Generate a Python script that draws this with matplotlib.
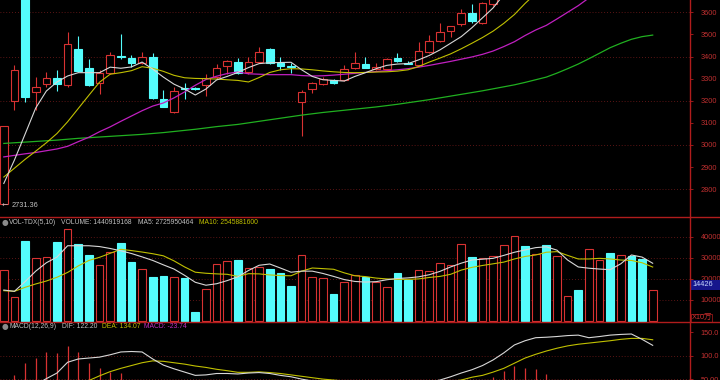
import numpy as np
import matplotlib
matplotlib.use("Agg")
import matplotlib.pyplot as plt
from matplotlib.lines import Line2D
from matplotlib.patches import Rectangle

plt.rcParams['font.family'] = ['Liberation Sans', 'DejaVu Sans', 'Noto Sans CJK SC']

# ---------------- data ----------------
opens = [2732, 3200, 3720, 3241, 3275, 3301, 3271, 3434, 3346, 3279,
         3327, 3404, 3392, 3372, 3396, 3209, 3147, 3258, 3258, 3271,
         3308, 3358, 3374, 3331, 3374, 3434, 3369, 3356, 3193, 3251,
         3275, 3294, 3294, 3349, 3366, 3343, 3342, 3392, 3372, 3361,
         3420, 3471, 3517, 3546, 3595, 3550, 3638, 3700, 3745, 3800,
         3770, 3830, 3800, 3860, 3885, 3870, 3930, 3990, 3950, 4010,
         3970, 3900]
highs = [3087, 3361, 3740, 3308, 3331, 3339, 3509, 3493, 3389, 3339,
         3422, 3500, 3407, 3419, 3414, 3248, 3260, 3279, 3262, 3321,
         3365, 3383, 3392, 3396, 3444, 3440, 3399, 3369, 3248, 3286,
         3308, 3297, 3361, 3419, 3399, 3370, 3392, 3418, 3378, 3467,
         3497, 3553, 3540, 3614, 3638, 3645, 3710, 3760, 3805, 3830,
         3835, 3850, 3870, 3890, 3895, 3945, 3995, 4010, 4030, 4040,
         3990, 3950]
lows = [2731.36, 3158, 3194, 3158, 3262, 3245, 3262, 3330, 3268, 3229,
        3320, 3390, 3354, 3368, 3208, 3170, 3145, 3208, 3250, 3222,
        3300, 3320, 3320, 3320, 3370, 3365, 3339, 3324, 3040, 3236,
        3272, 3278, 3290, 3345, 3346, 3340, 3340, 3375, 3364, 3358,
        3415, 3465, 3490, 3540, 3553, 3545, 3630, 3690, 3730, 3750,
        3760, 3780, 3790, 3850, 3855, 3860, 3920, 3930, 3940, 3950,
        3900, 3880]
closes = [3087, 3339, 3218, 3263, 3301, 3275, 3455, 3334, 3271, 3327,
          3407, 3396, 3372, 3399, 3213, 3173, 3245, 3255, 3255, 3304,
          3349, 3381, 3324, 3374, 3419, 3369, 3357, 3352, 3241, 3279,
          3298, 3281, 3342, 3372, 3349, 3354, 3387, 3380, 3366, 3426,
          3471, 3512, 3538, 3598, 3562, 3641, 3700, 3745, 3790, 3770,
          3820, 3800, 3860, 3880, 3870, 3930, 3980, 3950, 4010, 3970,
          3920, 3930]

ma5 = [2826, 2932, 3049, 3167, 3244, 3285, 3312, 3327, 3327, 3327,
       3352, 3347, 3353, 3375, 3343, 3307, 3275, 3253, 3226, 3253,
       3294, 3310, 3328, 3350, 3368, 3372, 3373, 3374, 3340, 3310,
       3295, 3292, 3289, 3310, 3327, 3345, 3360, 3366, 3368, 3385,
       3405, 3430, 3460, 3490, 3530, 3575, 3620, 3680, 3720, 3755,
       3785, 3800, 3815, 3835, 3850, 3870, 3895, 3920, 3945, 3965,
       3960, 3950]
ma10 = [2855, 2895, 2935, 2972, 3010, 3052, 3105, 3165, 3225, 3284,
        3320, 3327, 3336, 3354, 3347, 3333, 3315, 3304, 3301, 3300,
        3298, 3295, 3292, 3285, 3305, 3328, 3340, 3345, 3344, 3340,
        3335, 3331, 3328, 3327, 3328, 3330, 3331, 3334, 3340, 3355,
        3375, 3393, 3412, 3435, 3460, 3486, 3515, 3550, 3590, 3640,
        3685, 3720, 3750, 3775, 3800, 3825, 3850, 3870, 3890, 3905,
        3915, 3920]
ma20 = [2946, 2953, 2960, 2966, 2974, 2982, 2994, 3015, 3035, 3060,
        3082, 3107, 3131, 3155, 3176, 3190, 3213, 3240, 3270, 3296,
        3311, 3323, 3330, 3322, 3320, 3318, 3318, 3318, 3314, 3312,
        3313, 3316, 3320, 3324, 3328, 3332, 3336, 3340, 3345, 3352,
        3360, 3369, 3378, 3388, 3398, 3410, 3425, 3445, 3467, 3495,
        3520, 3541, 3570, 3600, 3630, 3665, 3700, 3730, 3760, 3790,
        3815, 3840]
ma60 = [3007, 3010, 3013, 3016, 3019, 3022, 3026, 3030, 3033, 3036,
        3039, 3042, 3045, 3048, 3052, 3056, 3061, 3066, 3071, 3077,
        3083, 3088, 3093, 3100, 3107, 3114, 3121, 3128, 3135, 3141,
        3147, 3152, 3157, 3162, 3167, 3172, 3178, 3184, 3191, 3198,
        3205, 3213, 3221, 3229, 3237, 3245, 3254, 3263, 3272, 3283,
        3295, 3307, 3325, 3345, 3366, 3390, 3415, 3440, 3460, 3478,
        3490, 3497]

# volume in units of 10万 (x10万)
volume = [23.9, 11.3, 38.0, 29.8, 30.4, 37.4, 43.6, 36.4, 31.3, 26.4,
          32.8, 36.9, 27.7, 24.5, 20.6, 21.3, 20.9, 20.4, 4.0, 15.2,
          26.9, 28.2, 28.8, 25.0, 25.3, 24.4, 22.6, 16.6, 31.2, 20.6,
          20.2, 12.8, 18.5, 21.7, 20.6, 18.5, 16.1, 22.8, 19.4, 24.0,
          23.6, 27.2, 26.4, 36.3, 30.2, 29.6, 30.6, 36.0, 40.4, 35.5,
          31.5, 35.8, 30.7, 11.8, 14.5, 33.9, 28.8, 32.0, 31.2, 30.7,
          29.1, 14.426]
vol_ma5 = [14.5, 13.9, 18.5, 23.5, 27.5, 30.2, 35.6, 35.6, 35.6, 35.2,
           34.3, 33.2, 31.9, 30.3, 28.6, 26.5, 24.5, 21.5, 18.2, 16.8,
           17.5, 19.0, 20.8, 23.8, 26.3, 26.9, 25.0, 23.0, 23.5, 23.5,
           22.4, 21.0, 19.5, 18.6, 18.3, 18.5, 19.4, 20.0, 20.3, 20.8,
           21.8, 23.4, 25.5, 27.3, 28.8, 29.2, 29.6, 31.0, 32.5, 33.6,
           34.7, 35.1, 33.5, 28.8, 25.5, 24.9, 24.5, 24.2, 27.0, 31.2,
           30.2, 27.26]
vol_ma10 = [14.2, 13.9, 15.8, 17.4, 18.8, 20.6, 22.9, 26.0, 28.6, 30.1,
            32.0, 33.9, 33.3, 32.6, 31.8, 30.8, 28.4, 25.5, 23.0, 22.5,
            22.2, 22.0, 21.0, 22.3, 22.2, 21.7, 21.4, 21.3, 23.5, 25.0,
            24.7, 24.4, 22.7, 21.3, 20.9, 20.2, 19.8, 19.6, 19.6, 19.8,
            20.5, 21.0, 22.0, 24.0, 25.3, 26.2, 27.0, 27.8, 29.3, 30.5,
            31.2, 32.5, 32.8, 31.0, 29.3, 29.3, 29.6, 29.3, 28.8, 28.6,
            27.5, 25.46]

dif = [20, 28, 30, 38, 51, 63, 86, 93, 95, 97,
       102, 108, 109, 108, 93, 80, 72, 65, 58, 59,
       62, 62, 61, 63, 64, 62, 58, 55, 50, 46,
       43, 41, 40, 40, 39, 38, 39, 39, 39, 40,
       44, 48, 55, 63, 70, 79, 91, 106, 123, 132,
       138.5, 139.5, 141, 143, 144, 138.5, 141, 144, 145.5, 146.4,
       135, 122.20]
dea = [5, 8, 10, 14, 20, 27, 35, 42, 47, 57,
       66, 73, 79, 85, 89, 88, 85, 82, 78, 75,
       71, 68, 64.5, 64.5, 65.5, 64, 62, 59, 56, 53,
       50, 48, 46, 45, 44, 43, 42, 41, 40, 40,
       41, 43, 45, 48, 54, 58, 65, 73, 84, 95,
       103, 110, 116, 121, 124.5, 127, 129.5, 132, 135, 137,
       137, 134.07]
macd_hist = [35, 58, 84, 96, 107, 105, 121, 107, 85, 73,
             66, 63, 44, 40, 10, -16, -26, -34, -40, -32,
             -18, -12, -7, -3, -2, -4, -8, -8, -12, -14,
             -10, -6, -4, -2, -1, 1, 3, 4, 5, 10,
             18, 28, 34, 40, 44, 46, 54, 68, 78, 73,
             72, 61, 46, 40, 36, 24, 22, 22, 21, 19,
             0, -23.74]

price_ticks = [2800, 2900, 3000, 3100, 3200, 3300, 3400, 3500, 3600]
price_grid = [2800, 3000, 3200, 3400, 3600]
vol_ticks = [10, 20, 30, 40]
vol_tick_labels = ['10000', '20000', '30000', '40000']
macd_ticks = [50, 100, 150]
macd_tick_labels = ['50.00', '100.0', '150.0']

# ---------------- style ----------------
BG = 'black'
UP = '#d83232'
DN = '#54fcfc'
AX = '#b01c1c'
GRID = '#7a1c1c'
LBL = '#c03030'
C_MA5 = '#d8d8d8'
C_MA10 = '#c0c000'
C_MA20 = '#c020c0'
C_MA60 = '#20b020'
TXT = '#c0c0c0'
FS = 5.3
HFS = 4.9

W, H = 720, 380
fig = plt.figure(figsize=(W / 100, H / 100), dpi=100, facecolor=BG)


def fx(px):
    return px / W


def fy(py):
    return 1 - py / H


AXR = 689.5
Y1, Y2 = 216.7, 322.3
ax1 = fig.add_axes([0, fy(Y1), fx(AXR), (Y1) / H])
ax2 = fig.add_axes([0, fy(Y2), fx(AXR), (Y2 - Y1) / H])
ax3 = fig.add_axes([0, 0, fx(AXR), (H - Y2) / H])

n = len(closes)
xs = np.arange(n)
XL = (-0.357, 64.46)
BW = 0.72

for ax in (ax1, ax2, ax3):
    ax.set_facecolor(BG)
    ax.set_xlim(*XL)
    for s in ax.spines.values():
        s.set_visible(False)
    ax.set_xticks([])
    ax.yaxis.tick_right()
    ax.tick_params(axis='y', colors=AX, labelcolor=LBL, labelsize=FS,
                   length=2, width=0.6, pad=6, direction='out')

# ---------------- main price panel ----------------
ax1.set_ylim(2675.6, 3655.7)
ax1.set_yticks(price_ticks)
ax1.set_yticklabels([str(t) for t in price_ticks])
for g in price_grid:
    ax1.axhline(g, color=GRID, lw=0.6, ls=(0, (1, 2.5)), zorder=0)

for i in range(n):
    o, h, l, c = opens[i], highs[i], lows[i], closes[i]
    up = c > o
    col = UP if up else DN
    top, bot = max(o, c), min(o, c)
    ax1.vlines(i, top, h, color=col, lw=0.8, zorder=3)
    ax1.vlines(i, l, bot, color=col, lw=0.8, zorder=3)
    ax1.add_patch(Rectangle((i - BW / 2, bot), BW, max(top - bot, 1.5),
                            facecolor=BG if up else DN, edgecolor=col,
                            lw=0.8, zorder=4))

ax1.plot(xs, ma60, color=C_MA60, lw=0.9, zorder=5)
ax1.plot(xs, ma20, color=C_MA20, lw=0.9, zorder=5)
ax1.plot(xs, ma10, color=C_MA10, lw=0.8, zorder=5)
ax1.plot(xs, ma5, color=C_MA5, lw=0.8, zorder=5)

fig.text(fx(2), fy(205.3), '\u2190', color=TXT, fontsize=FS,
         va='center', ha='left', family=['DejaVu Sans'])
fig.text(fx(11.5), fy(205.3), '2731.36', color=TXT, fontsize=FS,
         va='center', ha='left')

# ---------------- volume panel ----------------
ax2.set_ylim(-0.857, 49.43)
ax2.set_yticks(vol_ticks)
ax2.set_yticklabels(vol_tick_labels)
for g in vol_ticks:
    ax2.axhline(g, color=GRID, lw=0.6, ls=(0, (1, 2.5)), zorder=0)
for i in range(n):
    up = closes[i] > opens[i]
    col = UP if up else DN
    ax2.add_patch(Rectangle((i - BW / 2, 0), BW, volume[i],
                            facecolor=BG if up else DN, edgecolor=col,
                            lw=0.8, zorder=3))
ax2.plot(xs, vol_ma10, color=C_MA10, lw=0.8, zorder=5)
ax2.plot(xs, vol_ma5, color=C_MA5, lw=0.8, zorder=5)

# ---------------- MACD panel ----------------
ax3.set_ylim(48.1, 171.4)
ax3.set_yticks(macd_ticks)
ax3.set_yticklabels(macd_tick_labels)
for g in (50, 100):
    ax3.axhline(g, color=GRID, lw=0.6, ls=(0, (1, 2.5)), zorder=0)
hist_cols = [UP if v >= 0 else DN for v in macd_hist]
ax3.vlines(xs, 0, macd_hist, colors=hist_cols, lw=0.9, zorder=3)
ax3.plot(xs, dea, color=C_MA10, lw=0.8, zorder=5)
ax3.plot(xs, dif, color=C_MA5, lw=0.8, zorder=5)

# ---------------- frame lines ----------------
for yy in (Y1, Y2):
    fig.add_artist(Line2D([0, 1], [fy(yy), fy(yy)], color=AX, lw=1.0,
                          transform=fig.transFigure))
fig.add_artist(Line2D([fx(AXR), fx(AXR)], [0, 1], color=AX, lw=1.0,
                      transform=fig.transFigure))

# ---------------- header texts ----------------
def icon(py):
    fig.text(fx(4.5), fy(py), '\u25cf', color='#8a8a8a', fontsize=5.5,
             ha='center', va='center', family=['DejaVu Sans'])


icon(222.7)
fig.text(fx(9), fy(222.7), 'VOL-TDX(5,10)', color=TXT, fontsize=HFS, va='center')
fig.text(fx(61), fy(222.7), 'VOLUME: 1440919168', color=TXT, fontsize=HFS, va='center')
fig.text(fx(138), fy(222.7), 'MA5: 2725950464', color=TXT, fontsize=HFS, va='center')
fig.text(fx(199), fy(222.7), 'MA10: 2545881600', color=C_MA10, fontsize=HFS, va='center')

icon(326.7)
fig.text(fx(9), fy(326.7), 'MACD(12,26,9)', color=TXT, fontsize=HFS, va='center')
fig.text(fx(62), fy(326.7), 'DIF: 122.20', color=TXT, fontsize=HFS, va='center')
fig.text(fx(102), fy(326.7), 'DEA: 134.07', color=C_MA10, fontsize=HFS, va='center')
fig.text(fx(144), fy(326.7), 'MACD: -23.74', color='#c030c0', fontsize=HFS, va='center')

# current volume box
fig.add_artist(Rectangle((fx(690), fy(289.5)), fx(30), 9.5 / H,
                         facecolor='#16168c', edgecolor='none',
                         transform=fig.transFigure))
fig.text(fx(692), fy(285), '14426', color='#c8d8ff', fontsize=FS, va='center')
fig.text(fx(692), fy(317.5), 'X10\u4e07', color=LBL, fontsize=FS, va='center',
         family=['Liberation Sans', 'Noto Sans CJK SC'])
fig.add_artist(Rectangle((fx(690.5), fy(321.5)), fx(21), 8 / H,
                         facecolor='none', edgecolor=AX, lw=0.5,
                         transform=fig.transFigure))

fig.savefig('out.png', dpi=100, facecolor=BG)
